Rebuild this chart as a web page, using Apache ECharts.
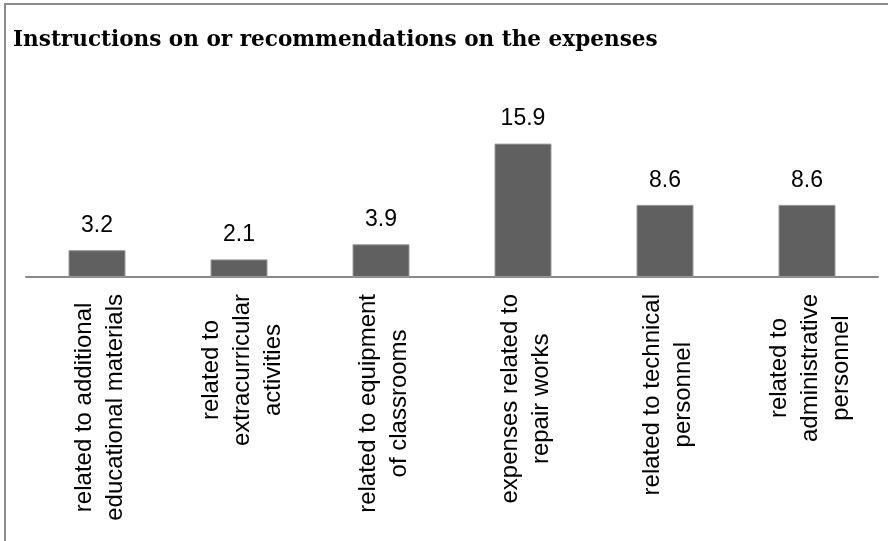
<!DOCTYPE html>
<html>
<head>
<meta charset="utf-8">
<style>
  html, body { margin: 0; padding: 0; background: #ffffff; }
  #chart { width: 888px; height: 541px; }
</style>
<script src="https://cdn.jsdelivr.net/npm/echarts@6/dist/echarts.min.js"></script>
</head>
<body>
<div id="chart"></div>
<script>
// Expense categories (line breaks mark the wrapped label lines)
const categories = [
  'related to additional\neducational materials',
  'related to\nextracurricular\nactivities',
  'related to equipment\nof classrooms',
  'expenses related to\nrepair works',
  'related to technical\npersonnel',
  'related to\nadministrative\npersonnel'
];

// Share of responses per category
const values = [3.2, 2.1, 3.9, 15.9, 8.6, 8.6];

const titleText = 'Instructions on or recommendations on the expenses';

const LABEL_FONT_FAMILY = '"Liberation Sans", Arial, sans-serif';
const CAT_FONT_SIZE = 24;
const CAT_LINE_HEIGHT = 31;
const CAT_MARGIN = 17;
const CAT_SHIFT_X = 3;

const chart = echarts.init(document.getElementById('chart'), null, { renderer: 'canvas' });

const frame = {
  // frame along the left and top edges
  type: 'polyline',
  silent: true,
  shape: { points: [[5, 541], [5, 4], [888, 4]] },
  style: { stroke: '#8c8c8c', lineWidth: 2, fill: null }
};

const title = {
  type: 'text',
  x: 13,
  y: 29,
  scaleX: 0.98,
  style: {
    text: titleText,
    fontFamily: '"DejaVu Serif", "Liberation Serif", serif',
    fontWeight: 'bold',
    fontSize: 22,
    fill: '#000000',
    verticalAlign: 'top',
    align: 'left'
  }
};

chart.setOption({
  backgroundColor: '#ffffff',
  animation: false,
  graphic: [frame, title],
  grid: {
    left: 26,
    right: 10,
    top: 126,
    bottom: 541 - 277,
    containLabel: false,
    outerBoundsMode: 'none'
  },
  xAxis: {
    type: 'category',
    data: categories,
    boundaryGap: true,
    axisLine: { show: true, lineStyle: { color: '#8a8a8a', width: 2 } },
    axisTick: { show: false },
    axisLabel: { show: false },
    splitLine: { show: false }
  },
  yAxis: {
    type: 'value',
    min: 0,
    max: 18,
    show: false,
    splitLine: { show: false }
  },
  series: [
    {
      type: 'bar',
      data: values,
      barWidth: 57,
      itemStyle: { color: '#606060', borderColor: '#9a9a9a', borderWidth: 1 },
      label: {
        show: true,
        position: 'top',
        distance: 13,
        color: '#000000',
        fontFamily: LABEL_FONT_FAMILY,
        fontSize: 23,
        formatter: function (p) { return p.value.toFixed(1); }
      }
    }
  ]
});

// Category labels: vertical text, lines centred on each other, with the end
// of the longest line sitting just below the axis line.
const measureCtx = document.createElement('canvas').getContext('2d');
measureCtx.font = CAT_FONT_SIZE + 'px ' + LABEL_FONT_FAMILY;
function longestLine(text) {
  return Math.max.apply(null, text.split('\n').map(function (l) {
    return measureCtx.measureText(l).width;
  }));
}
const axisY = chart.convertToPixel({ yAxisIndex: 0 }, 0);
const categoryLabels = categories.map(function (c) {
  const cx = chart.convertToPixel({ xAxisIndex: 0 }, c);
  return {
    type: 'text',
    silent: true,
    x: cx + CAT_SHIFT_X,
    y: axisY + CAT_MARGIN + longestLine(c) / 2,
    rotation: Math.PI / 2,
    style: {
      text: c,
      fontFamily: LABEL_FONT_FAMILY,
      fontSize: CAT_FONT_SIZE,
      lineHeight: CAT_LINE_HEIGHT,
      fill: '#000000',
      align: 'center',
      verticalAlign: 'middle'
    }
  };
});

chart.setOption({ graphic: [frame, title].concat(categoryLabels) }, { replaceMerge: ['graphic'] });
</script>
</body>
</html>
